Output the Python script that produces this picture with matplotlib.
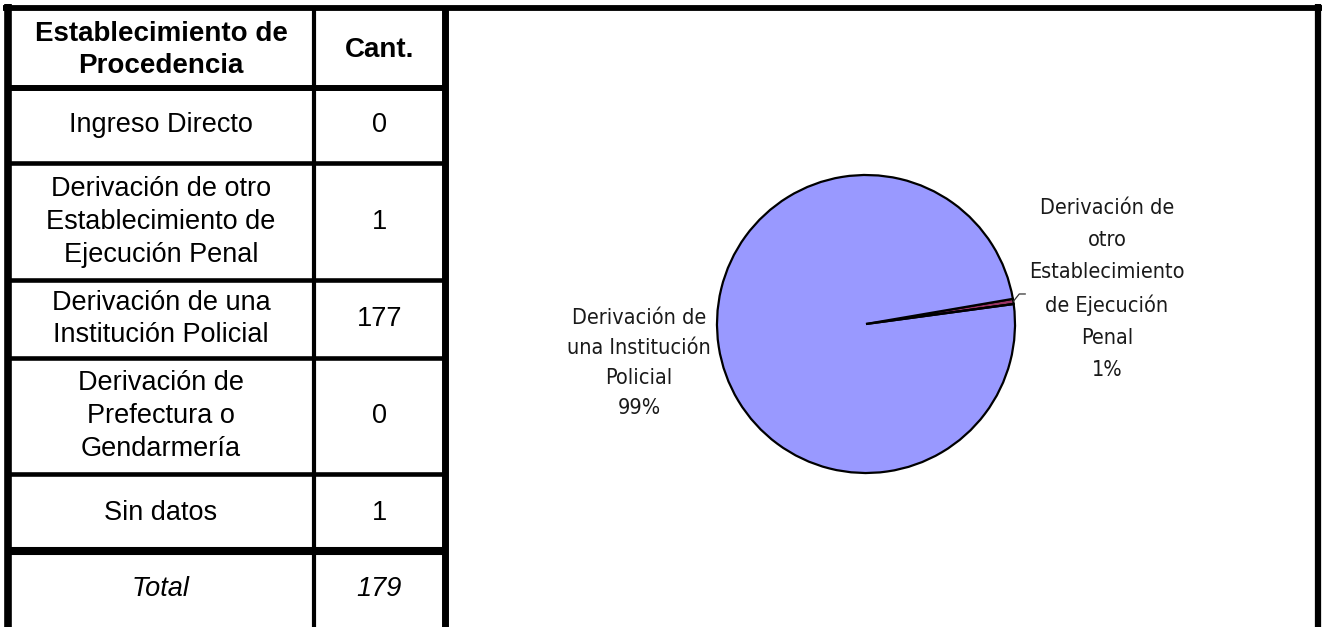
import matplotlib
matplotlib.use("Agg")
import matplotlib.pyplot as plt
import numpy as np

# Datos de la tabla
categorias = [
    "Ingreso Directo",
    "Derivación de otro\nEstablecimiento de\nEjecución Penal",
    "Derivación de una\nInstitución Policial",
    "Derivación de\nPrefectura o\nGendarmería",
    "Sin datos",
]
cantidades = [0, 1, 177, 0, 1]
total = 179

# Datos de la torta (sin "Sin datos")
pie_nombres = ["Ingreso Directo",
               "Derivación de\notro\nEstablecimiento\nde Ejecución\nPenal",
               "Derivación de\nuna Institución\nPolicial",
               "Derivación de\nPrefectura o\nGendarmería"]
pie_valores = [0, 1, 177, 0]
pie_colores = ["#9999FF", "#993366", "#9999FF", "#FFFFCC"]

W, H = 1326, 627
fig = plt.figure(figsize=(W / 100, H / 100), dpi=100)
ax = fig.add_axes([0, 0, 1, 1])
ax.set_xlim(0, W)
ax.set_ylim(H, 0)
ax.axis("off")

TFONT = "Liberation Sans"
NFONT = "DejaVu Sans"

# Bordes de la tabla
x_left, x_div, x_tab, x_right = 8, 314, 444.5, 1318
y_top, y_head = 8, 87.5
filas = [87.5, 163.3, 280, 358, 474, 551, H]

ax.plot([3, 1322], [y_top, y_top], color="black", lw=4.2, solid_capstyle="butt")
ax.plot([x_left, x_left], [4, H], color="black", lw=5.5, solid_capstyle="butt")
ax.plot([x_div, x_div], [y_top, H], color="black", lw=3.0, solid_capstyle="butt")
ax.plot([x_tab, x_tab], [y_top, H], color="black", lw=5.0, solid_capstyle="butt")
ax.plot([x_right, x_right], [4, H], color="black", lw=4.5, solid_capstyle="butt")
ax.plot([x_left, x_tab], [y_head, y_head], color="black", lw=4.3, solid_capstyle="butt")
for y in filas[1:5]:
    ax.plot([x_left, x_tab], [y, y], color="black", lw=3.3, solid_capstyle="butt")
ax.plot([x_left, x_tab], [filas[5], filas[5]], color="black", lw=5.8, solid_capstyle="butt")

c1 = (x_left + x_div) / 2
c2 = (x_div + x_tab) / 2

ax.text(c1, (y_top + y_head) / 2 + 2, "Establecimiento de\nProcedencia", ha="center", va="center",
        fontsize=20, fontweight="bold", family=TFONT, linespacing=1.3)
ax.text(c2, (y_top + y_head) / 2 + 2, "Cant.", ha="center", va="center",
        fontsize=20, fontweight="bold", family=TFONT)

for i, (cat, n) in enumerate(zip(categorias, cantidades)):
    yc = (filas[i] + filas[i + 1]) / 2
    ax.text(c1, yc, cat, ha="center", va="center", fontsize=19.5, family=TFONT, linespacing=1.35)
    ax.text(c2, yc, str(n), ha="center", va="center", fontsize=19.5, family=TFONT)

yc = (filas[5] + filas[6]) / 2
ax.text(c1, yc, "Total", ha="center", va="center", fontsize=19.5, style="italic", family=TFONT)
ax.text(c2, yc, str(total), ha="center", va="center", fontsize=19.5, style="italic", family=TFONT)

# Torta
cx, cy, r = 866, 324, 149
pax = fig.add_axes([(cx - r) / W, (H - cy - r) / H, 2 * r / W, 2 * r / H])
wedges, _ = pax.pie(pie_valores, colors=pie_colores, startangle=7.7, counterclock=True,
                    wedgeprops=dict(edgecolor="black", linewidth=1.6))
pax.set_xlim(-1, 1)
pax.set_ylim(-1, 1)
pax.set_aspect("equal")
pax.axis("off")

pct = [v / sum(pie_valores) for v in pie_valores]

# Etiqueta de la porción chica con línea guía
w = wedges[1]
ang = np.deg2rad((w.theta1 + w.theta2) / 2)
x0, y0 = np.cos(ang), np.sin(ang)
pax.plot([x0, x0 + 0.04, x0 + 0.08], [y0, y0 + 0.05, y0 + 0.05], color="#333333", lw=0.9,
         clip_on=False)
ax.text(1107, 289, f"{pie_nombres[1]}\n{pct[1]:.0%}", ha="center", va="center",
        fontsize=15.5, family=NFONT, fontstretch="condensed", linespacing=1.74,
        color="#1a1a1a")

# Etiqueta de la porción grande
ax.text(639, 363, f"{pie_nombres[2]}\n{pct[2]:.0%}", ha="center", va="center",
        fontsize=15.5, family=NFONT, fontstretch="condensed", linespacing=1.62,
        color="#1a1a1a")

fig.savefig("out.png", dpi=100)
